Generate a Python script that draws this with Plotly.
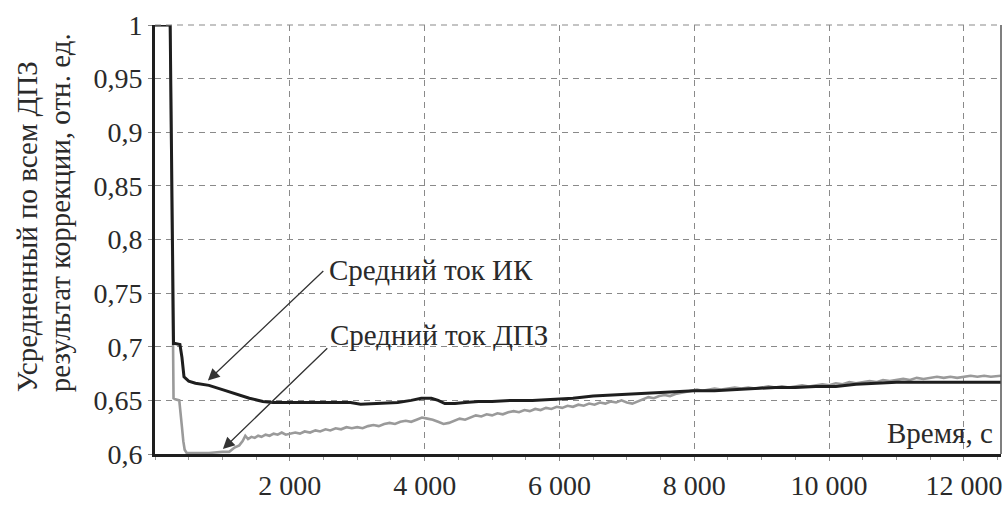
import plotly.graph_objects as go

# Time axis, seconds
ik_time = [0, 225, 275, 300, 370, 400, 430, 500, 600, 800, 1000, 1200, 1400, 1600, 1750,
           2000, 2400, 2700, 2900, 3050, 3200, 3400, 3600, 3800, 3950, 4100, 4200, 4300,
           4450, 4600, 4800, 5000, 5300, 5600, 5900, 6200, 6500, 6800, 7100, 7400, 7700,
           8000, 8300, 8600, 8900, 9200, 9500, 9800, 10100, 10400, 10700, 11000, 11300,
           11600, 12000, 12550]
# Average IR current (Средний ток ИК)
ik_value = [1.0, 1.0, 0.703, 0.703, 0.702, 0.690, 0.672, 0.668, 0.666, 0.664, 0.660,
            0.656, 0.652, 0.649, 0.648, 0.648, 0.648, 0.648, 0.648, 0.6465, 0.647, 0.648,
            0.648, 0.650, 0.652, 0.652, 0.650, 0.647, 0.647, 0.648, 0.649, 0.649, 0.650,
            0.650, 0.651, 0.652, 0.654, 0.655, 0.656, 0.657, 0.658, 0.659, 0.659, 0.660,
            0.661, 0.662, 0.662, 0.663, 0.663, 0.665, 0.666, 0.667, 0.667, 0.667, 0.667,
            0.667]

dpz_time = [0, 225, 275, 300, 360, 380, 400, 420, 440, 470, 600, 800, 1000, 1100, 1180,
            1250, 1300, 1340, 1380, 1430, 1480, 1530, 1580, 1640, 1700, 1760, 1820, 1880,
            1940, 2000, 2080, 2150, 2220, 2300, 2380, 2450, 2530, 2600, 2680, 2760, 2840,
            2920, 3000, 3080, 3160, 3240, 3320, 3400, 3480, 3560, 3640, 3720, 3800, 3880,
            3960, 4040, 4120, 4200, 4280, 4360, 4440, 4520, 4600, 4680, 4760, 4840, 4920,
            5000, 5080, 5160, 5240, 5320, 5400, 5480, 5560, 5640, 5720, 5800, 5880, 5960,
            6040, 6120, 6200, 6280, 6360, 6440, 6520, 6600, 6680, 6760, 6840, 6920, 7000,
            7080, 7160, 7240, 7320, 7400, 7480, 7560, 7640, 7720, 7800, 7880, 7960, 8040,
            8120, 8200, 8300, 8400, 8500, 8600, 8700, 8800, 8900, 9000, 9100, 9200, 9300,
            9400, 9500, 9600, 9700, 9800, 9900, 10000, 10100, 10200, 10300, 10400, 10500,
            10600, 10700, 10800, 10900, 11000, 11100, 11200, 11300, 11400, 11500, 11600,
            11700, 11800, 11900, 12000, 12100, 12200, 12300, 12400, 12550]
# Average DPZ current (Средний ток ДПЗ)
dpz_value = [1.0, 1.0, 0.652, 0.651, 0.650, 0.640, 0.625, 0.612, 0.604, 0.601, 0.601,
             0.601, 0.602, 0.602, 0.606, 0.608, 0.612, 0.617, 0.614, 0.616, 0.615, 0.617,
             0.616, 0.618, 0.617, 0.619, 0.618, 0.620, 0.618, 0.619, 0.620, 0.619, 0.621,
             0.620, 0.622, 0.621, 0.623, 0.622, 0.624, 0.623, 0.625, 0.624, 0.625, 0.624,
             0.626, 0.627, 0.626, 0.628, 0.629, 0.628, 0.630, 0.631, 0.630, 0.632, 0.634,
             0.633, 0.632, 0.630, 0.628, 0.629, 0.631, 0.633, 0.632, 0.634, 0.636, 0.635,
             0.637, 0.636, 0.638, 0.637, 0.639, 0.640, 0.639, 0.641, 0.640, 0.642, 0.641,
             0.643, 0.642, 0.644, 0.643, 0.645, 0.644, 0.646, 0.645, 0.647, 0.646, 0.648,
             0.647, 0.649, 0.648, 0.650, 0.648, 0.647, 0.649, 0.651, 0.653, 0.652, 0.654,
             0.655, 0.654, 0.656, 0.657, 0.658, 0.659, 0.660, 0.659, 0.660, 0.661, 0.660,
             0.661, 0.662, 0.661, 0.662, 0.661, 0.662, 0.663, 0.662, 0.663, 0.662, 0.663,
             0.664, 0.663, 0.664, 0.665, 0.664, 0.666, 0.665, 0.667, 0.666, 0.667, 0.668,
             0.667, 0.669, 0.668, 0.669, 0.670, 0.669, 0.671, 0.670, 0.671, 0.672, 0.671,
             0.672, 0.671, 0.672, 0.673, 0.672, 0.673, 0.672, 0.673]

x_tick_vals = [2000, 4000, 6000, 8000, 10000, 12000]
x_tick_text = ["2 000", "4 000", "6 000", "8 000", "10 000", "12 000"]
y_tick_vals = [0.6, 0.65, 0.7, 0.75, 0.8, 0.85, 0.9, 0.95, 1.0]
y_tick_text = ["0,6", "0,65", "0,7", "0,75", "0,8", "0,85", "0,9", "0,95", "1"]

FONT = "Liberation Serif"
TXT = "#2a2a2a"

fig = go.Figure()
fig.add_trace(go.Scatter(x=dpz_time, y=dpz_value, mode="lines",
                         line=dict(color="#9a9a9a", width=2.6), name="Средний ток ДПЗ"))
fig.add_trace(go.Scatter(x=ik_time, y=ik_value, mode="lines",
                         line=dict(color="#1e1e1e", width=3), name="Средний ток ИК"))

grid = dict(showgrid=True, gridcolor="#8a8a8a", gridwidth=1, griddash="6px,5px")

fig.update_xaxes(range=[0, 12550], tickvals=x_tick_vals, ticktext=x_tick_text,
                 showline=True, linecolor="#1e1e1e", linewidth=3,
                 ticks="outside", ticklen=4, tickcolor="#888",
                 minor=dict(dtick=500, ticks="outside", ticklen=3, tickcolor="#999", showgrid=False),
                 tickfont=dict(family=FONT, size=28, color=TXT), zeroline=False, **grid)
fig.update_yaxes(range=[0.6, 1.0], tickvals=y_tick_vals, ticktext=y_tick_text,
                 showline=True, linecolor="#1e1e1e", linewidth=3,
                 ticks="outside", ticklen=4, tickcolor="#888",
                 tickfont=dict(family=FONT, size=28, color=TXT), zeroline=False, **grid)

# Frame: thin right line and dashed top line at the upper grid level
fig.add_shape(type="line", xref="paper", yref="paper", x0=1, x1=1, y0=0, y1=1,
              line=dict(color="#555", width=1.5))
fig.add_shape(type="line", xref="paper", yref="paper", x0=0, x1=1, y0=1, y1=1,
              line=dict(color="#8a8a8a", width=1.2, dash="6px,5px"))

ann_font = dict(family=FONT, size=29, color=TXT)
annotations = [
    # Y axis title, one annotation per line, both starting from the same lower point
    dict(text="Усредненный по всем ДПЗ",
         xref="paper", yref="paper", x=-0.152, y=0.139, textangle=-90,
         xanchor="center", yanchor="bottom", showarrow=False, font=ann_font),
    dict(text="результат коррекции, отн. ед.",
         xref="paper", yref="paper", x=-0.113, y=0.139, textangle=-90,
         xanchor="center", yanchor="bottom", showarrow=False, font=ann_font),
    dict(text="Время, с", xref="paper", yref="paper", x=0.993, y=0.048,
         xanchor="right", yanchor="middle", showarrow=False, font=ann_font),
    dict(text="Средний ток ИК", xref="paper", yref="paper", x=0.203, y=0.43,
         xanchor="left", yanchor="middle", showarrow=False, font=ann_font),
    dict(text="Средний ток ДПЗ", xref="paper", yref="paper", x=0.204, y=0.278,
         xanchor="left", yanchor="middle", showarrow=False, font=ann_font),
    # Pointer arrows
    dict(text="", x=785, y=0.6685, ax=2519, ay=0.772, xref="x", yref="y", axref="x", ayref="y",
         showarrow=True, arrowhead=2, arrowsize=1.8, arrowwidth=1.3, arrowcolor="#333"),
    dict(text="", x=1007, y=0.6046, ax=2578, ay=0.700, xref="x", yref="y", axref="x", ayref="y",
         showarrow=True, arrowhead=2, arrowsize=1.8, arrowwidth=1.3, arrowcolor="#333"),
]

fig.update_layout(width=1006, height=505, margin=dict(l=155, r=4, t=25, b=47),
                  paper_bgcolor="white", plot_bgcolor="white", showlegend=False,
                  font=dict(family=FONT), annotations=annotations)

fig.write_html("out.html")
